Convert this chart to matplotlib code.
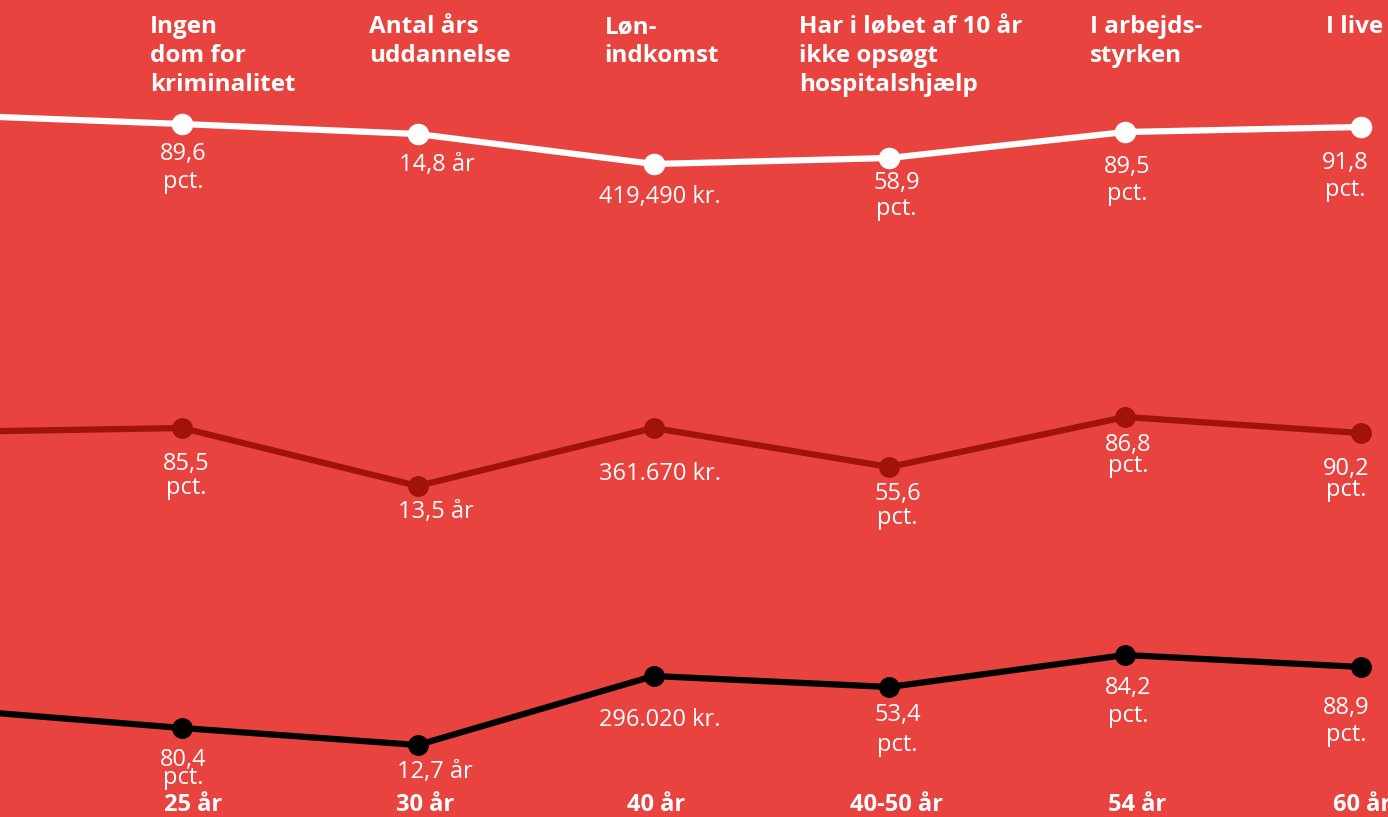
import matplotlib
matplotlib.use("Agg")
import matplotlib.pyplot as plt

# ---------------- data ----------------
ages = ["", "25 år", "30 år", "40 år", "40-50 år", "54 år", "60 år"]
headers = ["", "Ingen\ndom for\nkriminalitet", "Antal års\nuddannelse", "Løn-\nindkomst",
           "Har i løbet af 10 år\nikke opsøgt\nhospitalshjælp", "I arbejds-\nstyrken", "I live"]

# vertical position of each point as drawn in the chart (0 = top, 817 = bottom)
white_level = [115, 124, 134, 164, 158, 132, 127]
red_level = [432, 428, 486, 428, 467, 417, 433]
black_level = [709, 728, 745, 676, 687, 655, 667]

white_labels = ["", "89,6\npct.", "14,8 år", "419,490 kr.", "58,9\npct.", "89,5\npct.", "91,8\npct."]
red_labels = ["", "85,5\npct.", "13,5 år", "361.670 kr.", "55,6\npct.", "86,8\npct.", "90,2\npct."]
black_labels = ["", "80,4\npct.", "12,7 år", "296.020 kr.", "53,4\npct.", "84,2\npct.", "88,9\npct."]

# ---------------- style ----------------
BG = "#E8433E"
DARK = "#A0120A"
FONT = "Open Sans"

W, H = 1388, 817
fig = plt.figure(figsize=(W / 100, H / 100), dpi=100)
fig.patch.set_facecolor(BG)
ax = fig.add_axes([0, 0, 1, 1])
ax.set_facecolor(BG)
ax.axis("off")

x = list(range(len(ages)))
step = (1361 - 182) / 5.0
ax.set_xlim(1 - 182 / step, 6 + (W - 1361) / step)
ax.set_ylim(H, 0)

# label placement: (dx px, first-line baseline px below the point, gap to 2nd line px)
white_offs = [None, (1, 36, 28), (19, 37, 0), (6, 39, 0), (7, 31, 26), (2, 41, 27), (-16, 42, 27)]
red_offs = [None, (4, 42, 24), (18, 32, 0), (6, 52, 0), (8, 33, 24), (3, 34, 21), (-15, 42, 21)]
black_offs = [None, (1, 38, 18), (17, 33, 0), (6, 50, 0), (8, 34, 30), (3, 39, 28), (-15, 47, 27)]

series = [
    (white_level, white_labels, "white", 14.5, white_offs),
    (red_level, red_labels, DARK, 14.0, red_offs),
    (black_level, black_labels, "black", 14.0, black_offs),
]

for levels, labels, color, ms, offs in series:
    ax.plot(x, levels, color=color, lw=4.5, solid_capstyle="round", zorder=3)
    ax.plot(x[1:], levels[1:], "o", color=color, ms=ms, mec=color, zorder=4)
    for i in range(1, len(x)):
        dx, dy, gap = offs[i]
        for k, line in enumerate(labels[i].split("\n")):
            ax.annotate(line, xy=(x[i], levels[i]), xytext=(dx, -(dy + k * gap)),
                        textcoords="offset pixels", ha="center", va="baseline",
                        color="white", fontsize=17, family=FONT)

# headers
head_dx = [0, -32, -49, -49, -90, -35, -35]
for i in range(1, len(x)):
    ax.annotate(headers[i], xy=(x[i], 1), xycoords=("data", "axes fraction"),
                xytext=(head_dx[i], -15), textcoords="offset pixels",
                ha="left", va="top", color="white", fontsize=17.5,
                fontweight="bold", family=FONT, linespacing=1.28)

# x labels
tick_dx = [0, 11, 7, 3, 7, 12, 1]
for i in range(1, len(x)):
    ax.annotate(ages[i], xy=(x[i], 0), xycoords=("data", "axes fraction"),
                xytext=(tick_dx[i], 6), textcoords="offset pixels",
                ha="center", va="baseline", color="white", fontsize=17,
                fontweight="bold", family=FONT)

fig.savefig("out.png", dpi=100, facecolor=BG)
